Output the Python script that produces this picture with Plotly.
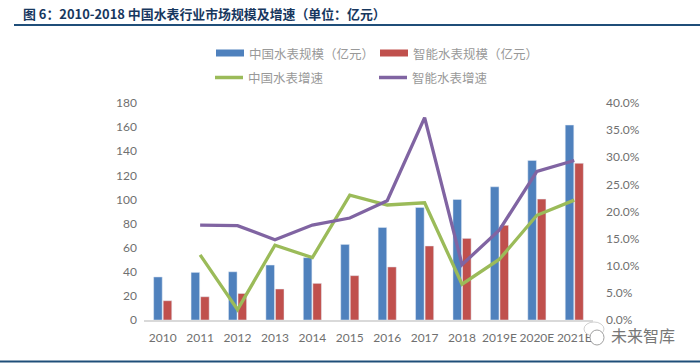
import plotly.graph_objects as go

W, H = 700, 363
years = ["2010", "2011", "2012", "2013", "2014", "2015", "2016", "2017", "2018", "2019E", "2020E", "2021E"]
china_size = [35.7, 39.5, 40, 45.6, 51.7, 62.7, 76.8, 93.4, 100, 110.5, 132.4, 161.7]
smart_size = [16, 19.3, 22, 25.7, 30.4, 36.8, 44, 61.4, 67.7, 78.5, 100.3, 130]
china_growth = [None, .120, .019, .138, .115, .230, .212, .216, .066, .112, .193, .221]
smart_growth = [None, .175, .174, .148, .175, .188, .220, .373, .102, .166, .274, .294]

title_text = "图 6：2010-2018 中国水表行业市场规模及增速（单位：亿元）"
names = ["中国水表规模（亿元）", "智能水表规模（亿元）", "中国水表增速", "智能水表增速"]
BLUE, RED, GREEN, PURPLE = "#4F81BD", "#C0504D", "#9BBB59", "#8064A2"
NAVY = "#17375E"
GRAY = "#707070"
TICK_FONT = dict(family="Lato, Open Sans, sans-serif", size=12, color=GRAY)
CJK = "Noto Sans CJK SC"

L, R, T, B = 144, 593, 103, 320

fig = go.Figure()
fig.add_bar(x=years, y=china_size, name=names[0], marker_color=BLUE, yaxis="y")
fig.add_bar(x=years, y=smart_size, name=names[1], marker_color=RED, yaxis="y")
fig.add_scatter(x=years, y=china_growth, name=names[2], mode="lines", yaxis="y2",
                line=dict(color=GREEN, width=3.3))
fig.add_scatter(x=years, y=smart_growth, name=names[3], mode="lines", yaxis="y2",
                line=dict(color=PURPLE, width=3.3))


def px(x):
    return (x - L) / (R - L)


def py(y):
    return (B - y) / (B - T)


shapes = [
    dict(type="line", xref="paper", yref="paper", x0=px(14), x1=px(700), y0=py(25), y1=py(25),
         line=dict(color="#1F4E79", width=2)),
    dict(type="line", xref="paper", yref="paper", x0=px(0), x1=px(700), y0=py(361.5), y1=py(361.5),
         line=dict(color="#1F4E79", width=2)),
]
annotations = [
    dict(text=f"<b>{title_text}</b>", xref="paper", yref="paper", x=px(21), y=py(13.5), xanchor="left",
         yanchor="middle", showarrow=False, font=dict(family=CJK, size=12.9, color=NAVY)),
]

legend_pos = [(216, 53, 7), (380, 53, 7), (215, 77.5, 3.5), (379, 77.5, 3.5)]
legend_cols = [BLUE, RED, GREEN, PURPLE]
for name, col, (lx, ly, w) in zip(names, legend_cols, legend_pos):
    shapes.append(dict(type="line", xref="paper", yref="paper", x0=px(lx), x1=px(lx + 28),
                       y0=py(ly), y1=py(ly), line=dict(color=col, width=w)))
    annotations.append(dict(text=name, xref="paper", yref="paper", x=px(lx + 31), y=py(ly),
                            xanchor="left", yanchor="middle", showarrow=False,
                            font=dict(family=CJK, size=12.5, color="#999999")))

# watermark
shapes.append(dict(type="circle", xref="paper", yref="paper", x0=px(584), x1=px(604),
                   y0=py(336), y1=py(322), fillcolor="white", line=dict(color="#D0D0D0", width=1)))
shapes.append(dict(type="circle", xref="paper", yref="paper", x0=px(590), x1=px(604),
                   y0=py(345), y1=py(330), fillcolor="white", line=dict(color="#A0A0A0", width=1)))
annotations.append(dict(text="未来智库", xref="paper", yref="paper", x=px(609), y=py(335), xanchor="left",
                        yanchor="middle", showarrow=False, font=dict(family=CJK, size=16, color="#777777")))

fig.update_layout(
    width=W, height=H, margin=dict(l=L, r=W - R, t=T, b=H - B), autosize=False,
    paper_bgcolor="white", plot_bgcolor="white", showlegend=False,
    barmode="group", bargap=0.49, bargroupgap=0.1,
    shapes=shapes, annotations=annotations,
    xaxis=dict(type="category", showgrid=False, ticks="", ticklabelstandoff=6,
               showline=True, linecolor="#D9D9D9", linewidth=1.5, tickfont=TICK_FONT, tickangle=0),
    yaxis=dict(range=[0, 180], dtick=20, showgrid=False, zeroline=False, ticklabelstandoff=6,
               tickfont=TICK_FONT, ticks=""),
    yaxis2=dict(overlaying="y", side="right", range=[0, .4], dtick=.05, tickformat=".1%",
                showgrid=False, zeroline=False, tickfont=TICK_FONT, ticks="", anchor="x",
                ticklabelstandoff=12),
)
fig.write_html("out.html", config=dict(displayModeBar=False),
               post_script="document.body.style.margin='0';")
